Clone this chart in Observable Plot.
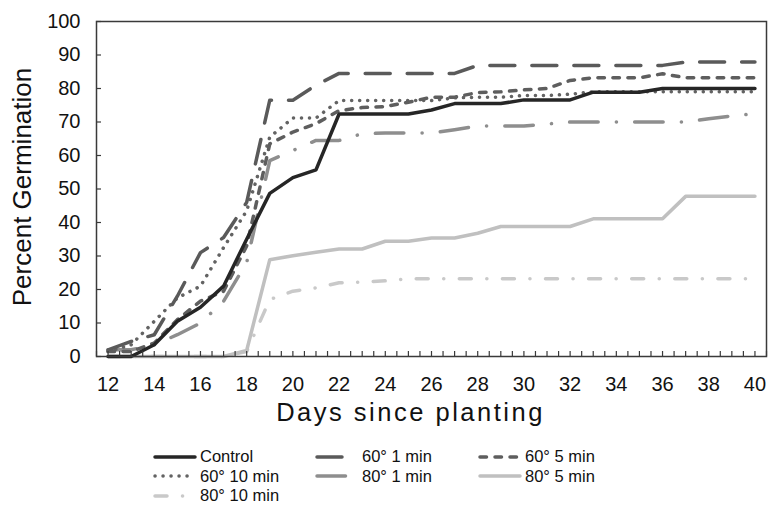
<!DOCTYPE html>
<html>
<head>
<meta charset="utf-8">
<script src="https://cdn.jsdelivr.net/npm/d3@7"></script>
<script src="https://cdn.jsdelivr.net/npm/@observablehq/plot@0.6"></script>
<style>
  body { margin: 0; background: #fff; font-family: "Liberation Sans", Arial, sans-serif; }
  #wrap { width: 768px; height: 505px; position: relative; overflow: hidden; }
  #legend { position: absolute; left: 153px; top: 447px; display: grid;
    grid-template-columns: 162px 163px 200px; row-gap: 0px; font-size: 16.5px; color: #111; }
  .item { display: flex; align-items: center; height: 19.5px; white-space: nowrap; }
  .item svg { margin-right: 3px; flex: none; }
</style>
</head>
<body>
<div id="wrap"><div id="chart"></div><div id="legend"></div></div>
<script>
const days = [12,13,14,15,16,17,18,19,20,21,22,23,24,25,26,27,28,29,30,31,32,33,34,35,36,37,38,39,40];
const xTickLabels = [12,14,16,18,20,22,24,26,28,30,32,34,36,38,40];
const xMinorTicks = [11.5,12,12.5,13,13.5,14,14.5,15,15.5,16,16.5,17,17.5,18,18.5,19,19.5,20,20.5,21,21.5,22,22.5,23,23.5,24,24.5,25,25.5,26,26.5,27,27.5,28,28.5,29,29.5,30,30.5,31,31.5,32,32.5,33,33.5,34,34.5,35,35.5,36,36.5,37,37.5,38,38.5,39,39.5,40,40.5];
const yTicks = [0,10,20,30,40,50,60,70,80,90,100];

const seriesNames = ["Control","60° 1 min","60° 5 min","60° 10 min","80° 1 min","80° 5 min","80° 10 min"];
const control = [0,0,3.5,10.5,14.7,21,35,48.7,53.4,55.7,72.4,72.4,72.4,72.4,73.6,75.5,75.5,75.5,76.6,76.6,76.6,78.9,78.9,78.9,80,80,80,80,80];
const h60m1  = [2,4.5,6.5,18,31,35.5,46,76.5,76.5,81,84.5,84.5,84.5,84.5,84.5,84.5,86.9,86.9,86.9,86.9,86.9,86.9,86.9,86.9,86.9,87.9,87.9,87.9,87.9];
const h60m5  = [1.5,1.5,4,11,16.5,19.5,33,63.5,67,69.5,73.4,74.3,74.6,75.9,77.4,77.4,78.8,79,79.6,80,82.4,83.2,83.2,83.2,84.4,83.2,83.2,83.2,83.2];
const h60m10 = [1.5,3.5,10.5,17.5,21,32.5,43.5,65.5,71.2,71.2,76.4,76.4,76.4,76.4,76.4,77.2,77.4,77.4,77.9,77.9,78.3,79,79,79,79,79,79,79,79];
const h80m1  = [2,2,3.5,6.5,10,16.5,28,58.5,61.5,64.5,64.5,66.5,66.7,66.7,66.7,67.7,68.8,68.8,68.8,69.4,70,70,70,70,70,70,71,71.8,72.5];
const h80m5  = [0,0,0,0,0,0,1.8,28.9,30.1,31.1,32.1,32.1,34.4,34.4,35.4,35.4,36.8,38.8,38.8,38.8,38.8,41.1,41.1,41.1,41.1,47.8,47.8,47.8,47.8];
const h80m10 = [0,0,0,0,0,0,1.5,17,19.5,20.5,22,22.2,22.6,23.2,23.2,23.2,23.2,23.2,23.2,23.2,23.2,23.2,23.2,23.2,23.2,23.2,23.2,23.2,23.2];

const seriesValues = [control, h60m1, h60m5, h60m10, h80m1, h80m5, h80m10];
const seriesColors = ["#262626","#5a5a5a","#5e5e5e","#636363","#8e8e8e","#c0c0c0","#c9c9c9"];
const seriesDash = [null,"25,17","6.5,8.5","0.1,7.9","28.5,18.2,0.1,18.2",null,"12,15.5,0.1,15.5"];
const seriesWidth = [3.5,3.5,3.5,3.5,3.5,3.5,3.5];

const rows = [];
seriesNames.forEach((name, i) => {
  days.forEach((d, j) => rows.push({series: name, day: d, value: seriesValues[i][j]}));
});

const lineMarks = seriesNames.map((name, i) =>
  Plot.line(rows.filter(r => r.series === name), {
    x: "day", y: "value",
    stroke: seriesColors[i], strokeWidth: seriesWidth[i],
    strokeDasharray: seriesDash[i],
    strokeLinecap: "round", strokeLinejoin: "round"
  })
);
lineMarks.reverse();

const chart = Plot.plot({
  width: 768,
  height: 440,
  marginLeft: 96,
  marginRight: 2,
  marginTop: 21,
  marginBottom: 84,
  style: {fontFamily: "Liberation Sans, Arial, sans-serif", fontSize: "20px", color: "#111", background: "#fff"},
  x: {domain: [11.5, 40.5], axis: null},
  y: {domain: [0, 100], axis: null},
  marks: [
    ...lineMarks,
    Plot.frame({stroke: "#3a3a3a", strokeWidth: 1.5}),
    Plot.axisX({ticks: xMinorTicks, tickSize: -5, tickFormat: () => "", stroke: "#3a3a3a", strokeWidth: 1.2, label: null}),
    Plot.axisY({ticks: yTicks, tickSize: -5, tickFormat: () => "", stroke: "#3a3a3a", strokeWidth: 1.2, label: null}),
    Plot.axisX({ticks: xTickLabels, tickSize: 0, tickPadding: 20, fontSize: 20, fill: "#111", label: null}),
    Plot.axisY({ticks: yTicks, tickSize: 0, tickPadding: 16, fontSize: 20, fill: "#111", label: null}),
    Plot.text(["Days since planting"], {frameAnchor: "bottom", dx: -21, dy: 56, lineAnchor: "middle", textAnchor: "middle", fontSize: 25.5, fill: "#111"}),
    Plot.text(["Percent Germination"], {frameAnchor: "left", dx: -74, dy: -2, rotate: -90, textAnchor: "middle", lineAnchor: "middle", fontSize: 26, fill: "#111"})
  ]
});
document.getElementById("chart").appendChild(chart);
chart.querySelectorAll("text").forEach(t => { if (t.textContent === "Days since planting") t.style.letterSpacing = "2.5px"; });

const legend = document.getElementById("legend");
[0,1,2,3,4,5,6].forEach(i => {
  const div = document.createElement("div");
  div.className = "item";
  const dash = seriesDash[i] ? `stroke-dasharray="${seriesDash[i]}"` : "";
  div.innerHTML = `<svg width="44" height="10"><line x1="2" y1="5" x2="42" y2="5" stroke="${seriesColors[i]}" stroke-width="3.5" stroke-linecap="round" ${dash}/></svg><span>${seriesNames[i]}</span>`;
  legend.appendChild(div);
});
</script>
</body>
</html>
